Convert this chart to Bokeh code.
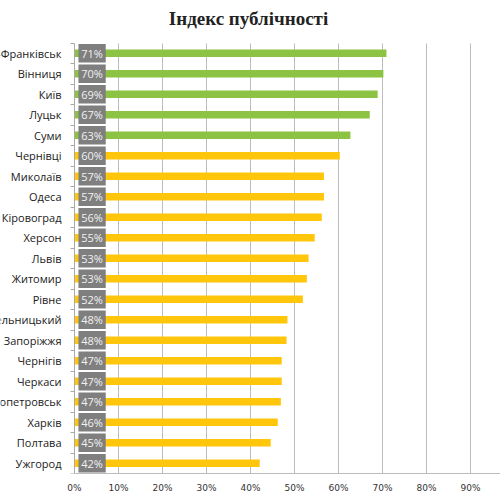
from bokeh.plotting import figure
from bokeh.models import (ColumnDataSource, Range1d, LinearAxis, FixedTicker,
                          NumeralTickFormatter, CustomJSTickFormatter)
from bokeh.core.properties import value
from bokeh.embed import file_html
from bokeh.resources import INLINE

title = "Індекс публічності"
cities = ["Івано-Франківськ", "Вінниця", "Київ", "Луцьк", "Суми", "Чернівці", "Миколаїв",
          "Одеса", "Кіровоград", "Херсон", "Львів", "Житомир", "Рівне", "Хмельницький",
          "Запоріжжя", "Чернігів", "Черкаси", "Дніпропетровськ", "Харків", "Полтава", "Ужгород"]
values = [0.709, 0.702, 0.689, 0.671, 0.627, 0.603, 0.567, 0.567, 0.562, 0.546, 0.532,
          0.528, 0.519, 0.484, 0.482, 0.471, 0.471, 0.469, 0.462, 0.446, 0.421]
groups = ["top"] * 5 + ["rest"] * 16
x_ticks = [0.0, 0.1, 0.2, 0.3, 0.4, 0.5, 0.6, 0.7, 0.8, 0.9]

GREEN = "#8CC342"
YELLOW = "#FFC60B"
n = len(cities)

# layout constants (pixels)
W, H = 500, 500
PX_PER_UNIT = 440.0      # pixels for 100%
ZERO_X = 74.0            # pixel x of 0%
ROW_PX = 20.5            # pixel height of one category row
BOTTOM = 27              # height under the plotting area

src = ColumnDataSource(dict(
    city=cities,
    v=values,
    y=[n - 1 - i for i in range(n)],
    pct=[f"{round(v * 100):d}%" for v in values],
    color=[GREEN if g == "top" else YELLOW for g in groups],
))

frame_h = H - BOTTOM
x_start = -ZERO_X / PX_PER_UNIT
x_end = (W - ZERO_X) / PX_PER_UNIT
y_start = -0.5
y_end = y_start + frame_h / ROW_PX

p = figure(width=W, height=H, x_range=Range1d(x_start, x_end), y_range=Range1d(y_start, y_end),
           output_backend="svg", toolbar_location=None, y_axis_location=None,
           min_border_left=0, min_border_right=0, min_border_top=0, min_border_bottom=BOTTOM)
p.outline_line_color = None
p.background_fill_color = "white"

# x axis
p.xaxis.ticker = FixedTicker(ticks=x_ticks)
p.xaxis.formatter = NumeralTickFormatter(format="0%")
p.xaxis.bounds = (0, 2)
p.xaxis.major_tick_out = 0
p.xaxis.major_tick_in = 0
p.xaxis.minor_tick_out = 0
p.xaxis.minor_tick_in = 0
p.xaxis.axis_line_color = "#bcbcbc"
p.xaxis.major_label_text_font = "DejaVu Sans"
p.xaxis.major_label_text_font_size = "9px"
p.xaxis.major_label_text_color = "#333333"
p.xaxis.major_label_standoff = 9

p.xgrid.ticker = FixedTicker(ticks=x_ticks[1:])
p.xgrid.cross_bounds = (-0.5, n - 0.5)
p.xgrid.grid_line_color = "#bdbdbd"
p.xgrid.grid_line_width = 1
p.ygrid.grid_line_color = None

# y axis at 0% with ticks at category boundaries
yax = LinearAxis(ticker=FixedTicker(ticks=[i - 0.5 for i in range(n + 1)]),
                 formatter=CustomJSTickFormatter(code="return ''"),
                 fixed_location=0, bounds=(-0.6, n - 0.5))
yax.major_tick_out = 4
yax.major_tick_in = 0
yax.minor_tick_out = 0
yax.minor_tick_in = 0
yax.axis_line_color = "#a8a8a8"
yax.major_tick_line_color = "#a8a8a8"
p.add_layout(yax, "left")

# bars
p.hbar(y="y", left=0, right="v", height=0.36, fill_color="color", line_color=None, source=src)
# grey label boxes
p.hbar(y="y", left=0.009, right=0.071, height=0.9, fill_color="#7f7f7f", line_color=None, source=src)
p.text(x=0.04, y="y", text="pct", source=src, text_align="center", text_baseline="middle",
       text_font=value("Open Sans"), text_font_size="11px", text_color="#f2f2f2")

# category labels
p.text(x=0, y="y", text="city", source=src, x_offset=-13,
       text_align="right", text_baseline="middle",
       text_font=value("Open Sans"), text_font_size="11px", text_color="#1a1a1a")

# title
p.text(x=[(248 - ZERO_X) / PX_PER_UNIT], y=[y_end - 17.5 / ROW_PX], text=[title],
       text_align="center", text_baseline="middle",
       text_font=value("Liberation Serif"), text_font_style="bold",
       text_font_size="19px", text_color="#222222")

open("out.html", "w").write(file_html(p, INLINE))
